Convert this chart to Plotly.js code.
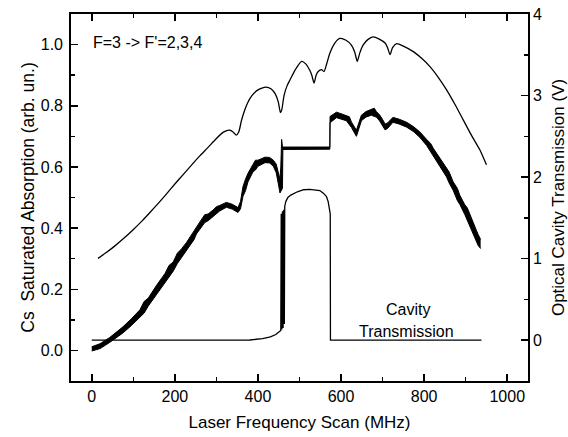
<!DOCTYPE html>
<html>
<head>
<meta charset="utf-8">
<script src="https://cdn.plot.ly/plotly-3.0.1.min.js"></script>
<style>
  html, body { margin: 0; padding: 0; background: #fff; }
  #chart { width: 568px; height: 437px; }
</style>
</head>
<body>
<div id="chart"></div>
<script>
// Broad Doppler-limited absorption profile with the hyperfine dips (left axis)
const upperX = [15, 35, 55, 75, 99, 120, 140, 160, 180, 200, 220, 240, 260, 280, 300, 316, 325, 332, 340, 348, 354,
  360, 368, 375, 385, 400, 419, 432, 442, 449, 454, 457, 463, 470, 477, 490, 505, 515, 525, 530, 535,
  540, 545, 553, 559, 565, 573, 585, 597, 612, 625, 633, 639, 645, 653, 665, 677, 692, 706, 712, 718,
  724, 734, 750, 774, 794, 814, 834, 854, 874, 894, 914, 934, 950];
const upperY = [0.301, 0.320, 0.341, 0.364, 0.394, 0.422, 0.451, 0.481, 0.512, 0.544, 0.575, 0.606, 0.636, 0.664, 0.693, 0.713, 0.719, 0.720, 0.714, 0.704, 0.715,
  0.750, 0.785, 0.809, 0.832, 0.852, 0.861, 0.855, 0.838, 0.812, 0.778, 0.785, 0.835, 0.865, 0.884, 0.918, 0.945, 0.937, 0.915, 0.898, 0.874,
  0.900, 0.912, 0.918, 0.912, 0.935, 0.972, 1.005, 1.020, 1.014, 0.998, 0.975, 0.945, 0.972, 0.998, 1.017, 1.025, 1.018, 1.005, 0.990, 0.967,
  0.990, 1.003, 0.995, 0.977, 0.955, 0.928, 0.893, 0.852, 0.805, 0.754, 0.703, 0.656, 0.607];

// Saturated absorption signal: lower and upper edge of the noisy trace (left axis)
const noisyX = [0, 20, 43, 60, 75, 95, 116, 126, 136, 156, 176, 186, 196, 206, 216, 228, 240, 246, 252, 265,
  272, 280, 292, 300, 308, 324, 338, 352, 358, 364, 370, 376, 388, 394, 400, 417, 428, 437, 444, 449,
  451, 453, 455, 457, 459, 460, 573, 573.5, 576, 589, 600, 613, 620, 625, 632, 637, 643, 649, 660, 673,
  680, 685, 693, 700, 706, 712, 725, 740, 758, 775, 790, 806, 816, 822, 838, 854, 860, 870, 880, 886,
  898, 904, 910, 920, 926, 930, 936];
const noisyLo = [-0.002, 0.006, 0.026, 0.041, 0.057, 0.081, 0.109, 0.122, 0.145, 0.183, 0.221, 0.236, 0.259, 0.284, 0.304, 0.325, 0.352, 0.362, 0.381, 0.406,
  0.418, 0.424, 0.439, 0.447, 0.456, 0.468, 0.462, 0.451, 0.463, 0.504, 0.522, 0.551, 0.584, 0.590, 0.602, 0.614, 0.613, 0.602, 0.581, 0.545,
  0.525, 0.515, 0.520, 0.525, 0.530, 0.657, 0.658, 0.745, 0.747, 0.761, 0.756, 0.751, 0.738, 0.729, 0.712, 0.700, 0.725, 0.751, 0.763, 0.769,
  0.765, 0.763, 0.750, 0.735, 0.721, 0.726, 0.746, 0.740, 0.730, 0.715, 0.696, 0.670, 0.648, 0.639, 0.604, 0.567, 0.548, 0.523, 0.490, 0.477,
  0.444, 0.424, 0.410, 0.377, 0.352, 0.343, 0.333];
const noisyHi = [0.012, 0.022, 0.042, 0.059, 0.077, 0.103, 0.133, 0.160, 0.171, 0.213, 0.251, 0.278, 0.289, 0.318, 0.332, 0.353, 0.378, 0.394, 0.407, 0.430,
  0.444, 0.446, 0.459, 0.470, 0.474, 0.484, 0.478, 0.467, 0.487, 0.536, 0.560, 0.579, 0.608, 0.622, 0.622, 0.632, 0.631, 0.622, 0.609, 0.578,
  0.570, 0.560, 0.600, 0.690, 0.665, 0.665, 0.665, 0.765, 0.767, 0.779, 0.774, 0.769, 0.764, 0.747, 0.732, 0.720, 0.745, 0.769, 0.781, 0.787,
  0.792, 0.781, 0.770, 0.755, 0.740, 0.744, 0.762, 0.756, 0.746, 0.731, 0.714, 0.690, 0.676, 0.661, 0.628, 0.593, 0.584, 0.551, 0.530, 0.507,
  0.476, 0.466, 0.444, 0.413, 0.392, 0.379, 0.363];

// Optical cavity transmission (right axis, volts)
const cavX = [0, 100, 200, 300, 380, 411, 430, 443, 450, 455, 456, 457.5, 459, 460.5, 462, 463.5, 464.5, 467, 472, 479,
  495, 510, 525, 540, 549, 558, 565, 569, 572, 574, 574.5, 700, 938];
const cavY = [0, 0, 0, 0, 0.003, 0.02, 0.04, 0.07, 0.10, 0.12, 1.55, 0.13, 1.58, 0.15, 1.60, 0.20, 1.64, 1.70, 1.75, 1.78,
  1.82, 1.845, 1.85, 1.845, 1.835, 1.80, 1.76, 1.70, 1.63, 1.55, 0, 0, 0];

const FONT = '"Liberation Sans", Arial, Helvetica, sans-serif';

const traces = [
  { x: upperX, y: upperY, type: 'scatter', mode: 'lines',
    line: { color: '#000', width: 1.3, shape: 'spline', smoothing: 0.6 }, hoverinfo: 'skip' },
  { x: noisyX, y: noisyLo, type: 'scatter', mode: 'lines',
    line: { color: '#000', width: 1 }, hoverinfo: 'skip' },
  { x: noisyX, y: noisyHi, type: 'scatter', mode: 'lines', fill: 'tonexty', fillcolor: '#000',
    line: { color: '#000', width: 1 }, hoverinfo: 'skip' },
  { x: cavX, y: cavY, type: 'scatter', mode: 'lines', yaxis: 'y2',
    line: { color: '#000', width: 1.3 }, hoverinfo: 'skip' }
];

const tickStyle = { ticks: 'inside', ticklen: 7, tickwidth: 1.5, tickcolor: '#000' };
const minorStyle = { ticks: 'inside', ticklen: 4, tickwidth: 1.5, tickcolor: '#000' };

const layout = {
  width: 568, height: 437,
  margin: { l: 71, r: 40, t: 14, b: 56 },
  paper_bgcolor: '#fff', plot_bgcolor: '#fff',
  showlegend: false,
  font: { family: FONT, size: 16, color: '#000' },
  xaxis: Object.assign({
    range: [-50, 1050], tick0: 0, dtick: 200,
    minor: Object.assign({ dtick: 100 }, minorStyle),
    showline: true, linewidth: 1.8, linecolor: '#000', mirror: 'ticks',
    showgrid: false, zeroline: false,
    tickfont: { family: FONT, size: 16 },
    title: { text: 'Laser Frequency Scan (MHz)', font: { family: FONT, size: 17 }, standoff: 12 }
  }, tickStyle),
  yaxis: Object.assign({
    range: [-0.1, 1.1], tick0: 0, dtick: 0.2, tickformat: '.1f',
    minor: Object.assign({ dtick: 0.1 }, minorStyle),
    showline: true, linewidth: 1.8, linecolor: '#000',
    showgrid: false, zeroline: false,
    ticklabelstandoff: 3,
    tickfont: { family: FONT, size: 16 },
    title: { text: 'Cs\u00a0 Saturated Absorption (arb. un.)', font: { family: FONT, size: 17.5 }, standoff: 2 }
  }, tickStyle),
  yaxis2: Object.assign({
    overlaying: 'y', side: 'right',
    range: [-0.5, 4], tick0: 0, dtick: 1,
    minor: Object.assign({ dtick: 0.5 }, minorStyle),
    showline: true, linewidth: 1.8, linecolor: '#000',
    showgrid: false, zeroline: false,
    tickfont: { family: FONT, size: 16 },
    title: { text: 'Optical Cavity Transmission (V)', font: { family: FONT, size: 17 }, standoff: 13 }
  }, tickStyle),
  annotations: [
    { text: "F=3 -> F'=2,3,4", xref: 'x', yref: 'y', x: -3, y: 1.006,
      xanchor: 'left', yanchor: 'middle', showarrow: false, font: { family: FONT, size: 16 } },
    { text: 'Cavity', xref: 'x', yref: 'y', x: 760, y: 0.135,
      xanchor: 'center', yanchor: 'middle', showarrow: false, font: { family: FONT, size: 16 } },
    { text: 'Transmission', xref: 'x', yref: 'y', x: 758, y: 0.063,
      xanchor: 'center', yanchor: 'middle', showarrow: false, font: { family: FONT, size: 16 } }
  ]
};

Plotly.newPlot('chart', traces, layout, { staticPlot: true, displayModeBar: false });
</script>
</body>
</html>
